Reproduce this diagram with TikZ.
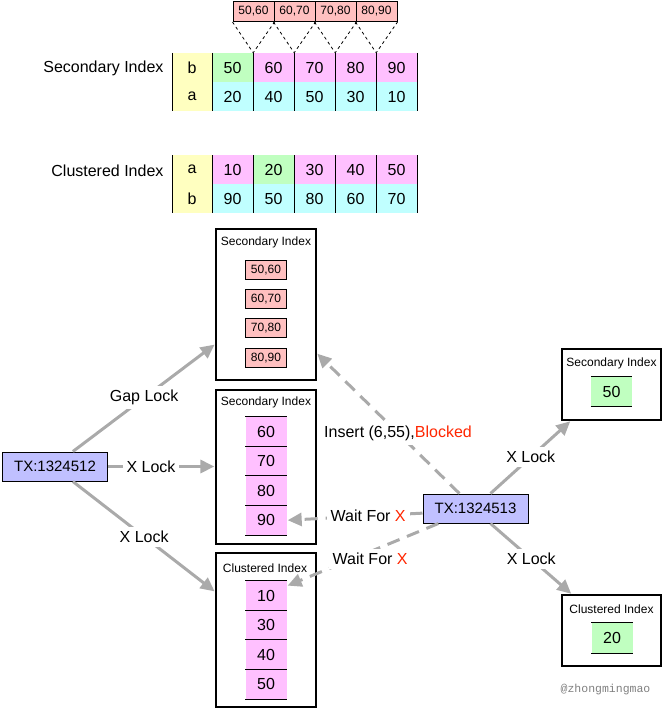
\documentclass[tikz,border=0pt]{standalone}
\usepackage{fontspec}
\setmainfont{Liberation Sans}
\setmonofont{Liberation Mono}
\usetikzlibrary{arrows.meta}

\definecolor{cellpink}{RGB}{255,192,255}
\definecolor{cellcyan}{RGB}{192,255,255}
\definecolor{cellgreen}{RGB}{192,255,192}
\definecolor{cellyellow}{RGB}{255,255,192}
\definecolor{gapred}{RGB}{255,192,192}
\definecolor{txblue}{RGB}{192,192,255}
\definecolor{lockgray}{RGB}{170,170,170}
\definecolor{alertred}{RGB}{255,38,0}

\tikzset{
  biglabel/.style = {font = \fontsize{16}{19}\selectfont},
  smalllabel/.style = {font = \fontsize{12}{14}\selectfont},
  cell/.style = {biglabel, minimum width = 41pt, minimum height = 29pt, inner sep = 0pt},
  gapbox/.style = {smalllabel, draw, line width = 1pt, fill = gapred, minimum width = 41pt,
    minimum height = 20pt, inner sep = 0pt},
  gapline/.style = {dashed, line width = 0.8pt},
  panel/.style = {draw, line width = 1.2pt, minimum width = 100pt, inner sep = 0pt},
  txbox/.style = {font = \fontsize{15}{18}\selectfont, draw, line width = 1pt, fill = txblue,
    minimum width = 105pt, minimum height = 29pt, inner sep = 0pt},
  lock/.style = {draw = lockgray, line width = 3pt, -{Triangle[length = 14pt, width = 13pt]},
    shorten >=1pt},
  waitfor/.style = {lock, dash pattern = on 13pt off 8pt},
  locklabel/.style = {biglabel, fill = white, inner sep = 4pt}
}

\begin{document}
\begin{tikzpicture}[x = 1pt, y = -1pt]
  \useasboundingbox (0, 0) rectangle (662, 709);

  \node[biglabel, anchor = east] (seclabel) at (167, 68) {Secondary Index};
  \node[cell, fill = cellyellow, minimum width = 40pt] (sbkey) at (192, 67.5) {b};
  \node[cell, fill = cellyellow, minimum width = 40pt] (sakey) at (192, 96.5) {a};
  \foreach \v/\c [count = \i] in {50/cellgreen, 60/cellpink, 70/cellpink, 80/cellpink, 90/cellpink}
    \node[cell, fill = \c] (sb\i) at ({191.5 + 41*\i}, 67.5) {\v};
  \foreach \v [count = \i] in {20, 40, 50, 30, 10}
    \node[cell, fill = cellcyan] (sa\i) at ({191.5 + 41*\i}, 96.5) {\v};
  \foreach \x in {172, 212, 253, 294, 335, 376, 417}
    \draw[line width = 1pt] (\x, 53) -- (\x, 111);

  \foreach \a [count = \i, evaluate = \a as \b using int(\a + 10)] in {50, 60, 70, 80}
    \node[gapbox] (g\i) at ({212.5 + 41*\i}, 11.5) {\a,\b};
  \foreach \i in {1, ..., 4}
    \draw[gapline] (g\i.south west) -- (sb\i.north east) -- (g\i.south east);

  \node[biglabel, anchor = east] (clulabel) at (167, 171) {Clustered Index};
  \node[cell, fill = cellyellow, minimum width = 40pt] (cakey) at (192, 169.5) {a};
  \node[cell, fill = cellyellow, minimum width = 40pt] (cbkey) at (192, 198.5) {b};
  \foreach \v/\c [count = \i] in {10/cellpink, 20/cellgreen, 30/cellpink, 40/cellpink, 50/cellpink}
    \node[cell, fill = \c] (ca\i) at ({191.5 + 41*\i}, 169.5) {\v};
  \foreach \v [count = \i] in {90, 50, 80, 60, 70}
    \node[cell, fill = cellcyan] (cb\i) at ({191.5 + 41*\i}, 198.5) {\v};
  \foreach \x in {172, 212, 253, 294, 335, 376, 417}
    \draw[line width = 1pt] (\x, 155) -- (\x, 213);

  \node[panel, minimum height = 151pt] (secA) at (266, 304.5) {};
  \node[smalllabel] (secAtitle) at (266, 242) {Secondary Index};
  \foreach \a [count = \i, evaluate = \a as \b using int(\a + 10)] in {50, 60, 70, 80}
    \node[gapbox, minimum height = 19pt] (ag\i) at (266, {240.5 + 29.3*\i}) {\a,\b};

  \node[panel, minimum height = 154pt] (secB) at (266, 467) {};
  \node[smalllabel] (secBtitle) at (266, 402) {Secondary Index};
  \foreach \v [count = \i] in {60, 70, 80, 90}
    \node[cell, fill = cellpink, minimum height = 29.5pt] (bc\i) at (266, {402.25 + 29.5*\i}) {\v};
  \foreach \i in {1, ..., 4}
    \draw[line width = 1pt] (bc\i.north west) -- (bc\i.north east);
  \draw[line width = 1pt] (bc4.south west) -- (bc4.south east);

  \node[panel, minimum height = 154pt] (secC) at (266, 630) {};
  \node[smalllabel] (secCtitle) at (265, 568) {Clustered Index};
  \foreach \v [count = \i] in {10, 30, 40, 50}
    \node[cell, fill = cellpink, minimum height = 29.5pt] (cc\i) at (266, {566.25 + 29.5*\i}) {\v};
  \foreach \i in {1, ..., 4}
    \draw[line width = 1pt] (cc\i.north west) -- (cc\i.north east);
  \draw[line width = 1pt] (cc4.south west) -- (cc4.south east);

  \node[panel, minimum width = 99pt, minimum height = 71pt] (secR) at (611.5, 384.5) {};
  \node[smalllabel] (secRtitle) at (611.5, 363) {Secondary Index};
  \node[cell, fill = cellgreen] (rc1) at (611.5, 391.5) {50};
  \draw[line width = 1pt] (rc1.north west) -- (rc1.north east);
  \draw[line width = 1pt] (rc1.south west) -- (rc1.south east);

  \node[panel, minimum width = 99pt, minimum height = 71pt] (cluR) at (611.5, 630.5) {};
  \node[smalllabel] (cluRtitle) at (611.5, 609) {Clustered Index};
  \node[cell, fill = cellgreen, minimum height = 30pt] (rc2) at (612, 638) {20};
  \draw[line width = 1pt] (rc2.north west) -- (rc2.north east);
  \draw[line width = 1pt] (rc2.south west) -- (rc2.south east);

  \node[txbox] (tx1) at (55, 466.5) {TX:1324512};
  \node[txbox] (tx2) at (475.5, 508.5) {TX:1324513};

  \draw[lock] (tx1.40) -- node[locklabel] {Gap Lock} (secA.west |- 0,344);
  \draw[lock] (tx1.east) -- node[locklabel, pos = 0.4] {X Lock} (secB.west |- tx1.east);
  \draw[lock] (tx1.-40) -- node[locklabel] {X Lock} (secC.west |- 0,592);

  \draw[waitfor] (tx2.137) -- node[locklabel, pos = 0.43]
    {Insert (6,55),\textcolor{alertred}{Blocked}} (secA.east |- 0,353);
  \draw[waitfor] (tx2.185) -- node[locklabel, pos = 0.4]
    {Wait For \textcolor{alertred}{X}} (bc4.east);
  \draw[waitfor] (tx2.202) -- node[locklabel, pos = 0.45, yshift = -7pt]
    {Wait For \textcolor{alertred}{X}} (cc1.east |- 0,586);

  \draw[lock] (tx2.45) -- node[locklabel] {X Lock} (571,0 |- secR.south);
  \draw[lock] (tx2.-45) -- node[locklabel] {X Lock} (572,0 |- cluR.north);

  \node[font = \ttfamily\fontsize{11.5}{13}\selectfont, text = gray] (mark) at (605.5, 690)
    {@zhongmingmao};
\end{tikzpicture}
\end{document}
